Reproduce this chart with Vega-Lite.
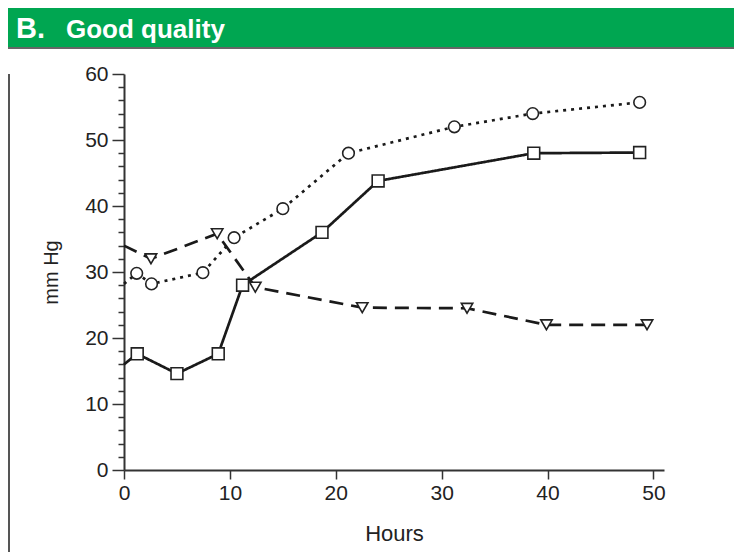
{
  "$schema": "https://vega.github.io/schema/vega-lite/v6.json",
  "padding": {"left": 8, "top": 8, "right": 0, "bottom": 0},
  "background": "white",
  "config": {"view": {"stroke": null}, "font": "Liberation Sans"},
  "datasets": {
    "decor": [{"part": "frame"}],
    "pressure": [
      {"series": "square", "hours": 0, "mmHg": 16.0, "marker": false},
      {"series": "square", "hours": 1.25, "mmHg": 17.6, "marker": true},
      {"series": "square", "hours": 5.0, "mmHg": 14.6, "marker": true},
      {"series": "square", "hours": 8.9, "mmHg": 17.6, "marker": true},
      {"series": "square", "hours": 11.2, "mmHg": 28.0, "marker": true},
      {"series": "square", "hours": 18.7, "mmHg": 36.0, "marker": true},
      {"series": "square", "hours": 24.0, "mmHg": 43.8, "marker": true},
      {"series": "square", "hours": 38.7, "mmHg": 48.0, "marker": true},
      {"series": "square", "hours": 48.7, "mmHg": 48.1, "marker": true},
      {"series": "circle", "hours": 0, "mmHg": 28.2, "marker": false},
      {"series": "circle", "hours": 1.2, "mmHg": 29.8, "marker": true},
      {"series": "circle", "hours": 2.6, "mmHg": 28.2, "marker": true},
      {"series": "circle", "hours": 7.45, "mmHg": 29.9, "marker": true},
      {"series": "circle", "hours": 10.4, "mmHg": 35.2, "marker": true},
      {"series": "circle", "hours": 15.0, "mmHg": 39.6, "marker": true},
      {"series": "circle", "hours": 21.2, "mmHg": 48.0, "marker": true},
      {"series": "circle", "hours": 31.2, "mmHg": 52.0, "marker": true},
      {"series": "circle", "hours": 38.6, "mmHg": 54.0, "marker": true},
      {"series": "circle", "hours": 48.7, "mmHg": 55.7, "marker": true},
      {"series": "triangle", "hours": 0, "mmHg": 34.0, "marker": false},
      {"series": "triangle", "hours": 2.55, "mmHg": 32.0, "marker": true},
      {"series": "triangle", "hours": 8.8, "mmHg": 35.8, "marker": true},
      {"series": "triangle", "hours": 12.4, "mmHg": 27.7, "marker": true},
      {"series": "triangle", "hours": 22.5, "mmHg": 24.6, "marker": true},
      {"series": "triangle", "hours": 32.4, "mmHg": 24.5, "marker": true},
      {"series": "triangle", "hours": 39.9, "mmHg": 22.0, "marker": true},
      {"series": "triangle", "hours": 49.4, "mmHg": 22.0, "marker": true}
    ]
  },
  "spacing": 14,
  "vconcat": [
    {
      "spacing": 0,
      "vconcat": [
        {
          "spacing": 0,
          "hconcat": [
            {
              "width": 58,
              "height": 39,
              "view": {"fill": "#00A651", "stroke": null},
              "data": {"name": "decor"},
              "title": {
                "text": "B.",
                "anchor": "start", "frame": "group", "orient": "top",
                "offset": -35.5, "dx": 8,
                "font": "Liberation Sans", "fontSize": 29, "fontWeight": "bold", "color": "white"
              },
              "mark": {"type": "rect", "color": "#00A651"},
              "encoding": {}
            },
            {
              "width": 668,
              "height": 39,
              "view": {"fill": "#00A651", "stroke": null},
              "data": {"name": "decor"},
              "title": {
                "text": "Good quality",
                "anchor": "start", "frame": "group", "orient": "top",
                "offset": -34.7, "dx": 0,
                "font": "Liberation Sans", "fontSize": 26, "fontWeight": "bold", "color": "white"
              },
              "mark": {"type": "rect", "color": "#00A651"},
              "encoding": {}
            }
          ]
        },
        {
          "width": 726,
          "height": 2,
          "view": {"fill": "#666666", "stroke": null},
          "data": {"name": "decor"},
          "mark": {"type": "rect", "color": "#666666"},
          "encoding": {}
        }
      ]
    },
    {
      "spacing": 31,
      "hconcat": [
        {
          "width": 2,
          "height": 480,
          "view": {"fill": "#555555", "stroke": null},
          "data": {"name": "decor"},
          "mark": {"type": "rect", "color": "#555555"},
          "encoding": {}
        },
        {
          "width": 540,
          "height": 396,
          "data": {"name": "pressure"},
          "layer": [
            {
              "mark": {"type": "line", "color": "#1a1a1a", "strokeWidth": 2.7},
              "encoding": {
                "x": {
                  "field": "hours", "type": "quantitative",
                  "scale": {"domain": [0, 51], "nice": false, "zero": false},
                  "axis": {
                    "values": [0, 10, 20, 30, 40, 50],
                    "title": "Hours",
                    "titleFontSize": 22, "titleFontWeight": "normal", "titleColor": "#222", "titlePadding": 20,
                    "labelFontSize": 21, "labelColor": "#222", "labelPadding": 3,
                    "tickSize": 9, "tickWidth": 1.5, "tickColor": "#333",
                    "domainWidth": 2, "domainColor": "#333", "grid": false, "labelFlush": false
                  }
                },
                "y": {
                  "field": "mmHg", "type": "quantitative",
                  "scale": {"domain": [0, 60], "nice": false},
                  "axis": {
                    "orient": "left",
                    "values": [0, 10, 20, 30, 40, 50, 60],
                    "title": "mm Hg",
                    "titleFontSize": 20, "titleFontWeight": "normal", "titleColor": "#222", "titlePadding": 23,
                    "labelFontSize": 21, "labelColor": "#222", "labelPadding": 4,
                    "tickSize": 12, "tickWidth": 1.5, "tickColor": "#333",
                    "domainWidth": 2, "domainColor": "#333", "grid": false
                  }
                },
                "strokeDash": {
                  "field": "series", "type": "nominal",
                  "scale": {"domain": ["square", "circle", "triangle"], "range": [[1, 0], [3, 5], [14, 8]]},
                  "legend": null
                },
                "detail": {"field": "series"}
              }
            },
            {
              "transform": [{"filter": "datum.marker"}],
              "mark": {"type": "point", "filled": true, "fill": "white", "stroke": "#222", "strokeWidth": 1.6, "opacity": 1},
              "encoding": {
                "x": {"field": "hours", "type": "quantitative"},
                "y": {
                  "field": "mmHg", "type": "quantitative",
                  "axis": {
                    "orient": "left",
                    "values": [2, 4, 6, 8, 12, 14, 16, 18, 22, 24, 26, 28, 32, 34, 36, 38, 42, 44, 46, 48, 52, 54, 56, 58],
                    "title": null, "labels": false, "domain": false, "grid": false,
                    "tickSize": 6, "tickWidth": 1.5, "tickColor": "#333"
                  }
                },
                "shape": {
                  "field": "series", "type": "nominal",
                  "scale": {"domain": ["square", "circle", "triangle"], "range": ["square", "circle", "triangle-down"]},
                  "legend": null
                },
                "size": {
                  "field": "series", "type": "nominal",
                  "scale": {"domain": ["square", "circle", "triangle"], "range": [140, 130, 210]},
                  "legend": null
                }
              }
            }
          ],
          "resolve": {"axis": {"y": "independent"}}
        }
      ]
    }
  ]
}
